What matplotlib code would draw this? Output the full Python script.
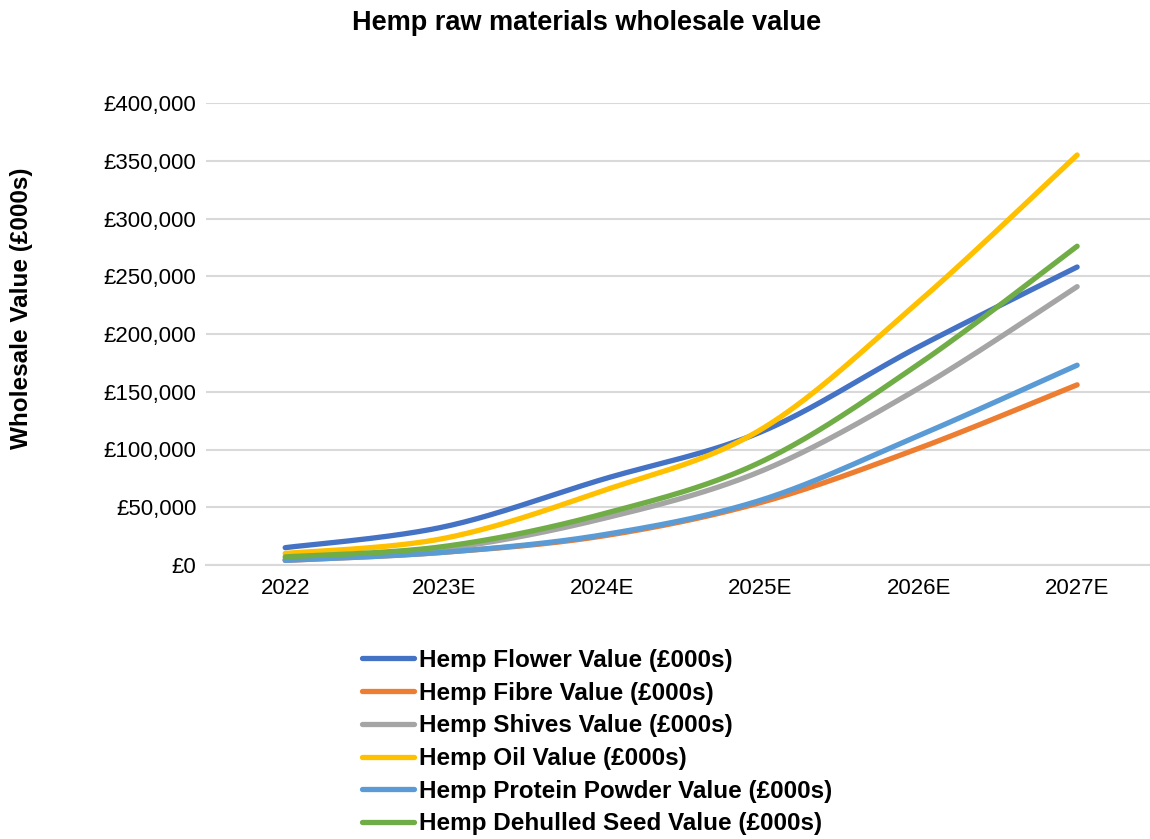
import numpy as np
import matplotlib.pyplot as plt
from matplotlib.ticker import FuncFormatter

plt.rcParams['font.family'] = ['Liberation Sans', 'DejaVu Sans']

# data (values in £000s)
years = ['2022', '2023E', '2024E', '2025E', '2026E', '2027E']
flower = [15000, 33000, 74000, 115000, 189000, 258000]
fibre = [4000, 11000, 25000, 54000, 101000, 156000]
shives = [5000, 14000, 40000, 81000, 153000, 241000]
oil = [10000, 23000, 64000, 117000, 228000, 355000]
protein = [4000, 11000, 26000, 56000, 112000, 173000]
seed = [7000, 16000, 44000, 89000, 174000, 276000]

names = ['Hemp Flower Value (£000s)', 'Hemp Fibre Value (£000s)',
         'Hemp Shives Value (£000s)', 'Hemp Oil Value (£000s)',
         'Hemp Protein Powder Value (£000s)', 'Hemp Dehulled Seed Value (£000s)']
colors = ['#4472C4', '#ED7D31', '#A5A5A5', '#FFC000', '#5B9BD5', '#70AD47']


def smooth(x, y, n=40):
    # bezier smoothing like excel's "smoothed line"
    x = np.asarray(x, float)
    y = np.asarray(y, float)
    px = np.concatenate([[x[0]], x, [x[-1]]])
    py = np.concatenate([[y[0]], y, [y[-1]]])
    xs, ys = [], []
    t = np.linspace(0, 1, n)
    for i in range(len(x) - 1):
        p0 = np.array([x[i], y[i]])
        p3 = np.array([x[i + 1], y[i + 1]])
        p1 = p0 + (np.array([px[i + 2], py[i + 2]]) - np.array([px[i], py[i]])) / 6
        p2 = p3 - (np.array([px[i + 3], py[i + 3]]) - np.array([px[i + 1], py[i + 1]])) / 6
        b = ((1 - t) ** 3)[:, None] * p0 + (3 * (1 - t) ** 2 * t)[:, None] * p1 \
            + (3 * (1 - t) * t ** 2)[:, None] * p2 + (t ** 3)[:, None] * p3
        xs.append(b[:, 0])
        ys.append(b[:, 1])
    return np.concatenate(xs), np.concatenate(ys)


fig = plt.figure(figsize=(11.5, 8.39), dpi=100)
ax = fig.add_axes([206 / 1150, 1 - 565 / 839, 1 - 206 / 1150, (565 - 103) / 839])

xpos = np.arange(len(years))
for vals, name, c in zip([flower, fibre, shives, oil, protein, seed], names, colors):
    sx, sy = smooth(xpos, vals)
    ax.plot(sx, sy, color=c, lw=3.8, solid_capstyle='round', label=name)

ax.set_xlim(-0.5, 5.46)
ax.set_ylim(0, 400000)
ax.set_yticks(np.arange(0, 400001, 50000))
ax.yaxis.set_major_formatter(FuncFormatter(lambda v, p: '£{:,.0f}'.format(v)))
ax.set_xticks(xpos)
ax.set_xticklabels(years)
ax.tick_params(length=0, labelsize=16, pad=7)
ax.tick_params(axis='x', pad=9)
ax.grid(axis='y', color='#D9D9D9', lw=1.5)
ax.set_axisbelow(True)
for s in ['top', 'right', 'left']:
    ax.spines[s].set_visible(False)
ax.spines['bottom'].set_color('#D9D9D9')
ax.spines['bottom'].set_linewidth(1.5)

fig.text(587 / 1150, 1 - 23 / 839, 'Hemp raw materials wholesale value', ha='center',
         va='center', fontsize=19.5, fontweight='bold')
fig.text(22 / 1150, 1 - 308 / 839, 'Wholesale Value (£000s)', rotation=90, ha='center',
         va='center', fontsize=17.5, fontweight='bold')

fig.legend(loc='upper left', bbox_to_anchor=(340 / 1150, 1 - 627 / 839), frameon=False,
           prop={'size': 17.5, 'weight': 'bold'}, handlelength=2.15, handletextpad=0.2,
           labelspacing=0.4)

fig.savefig('out.png', dpi=100)
